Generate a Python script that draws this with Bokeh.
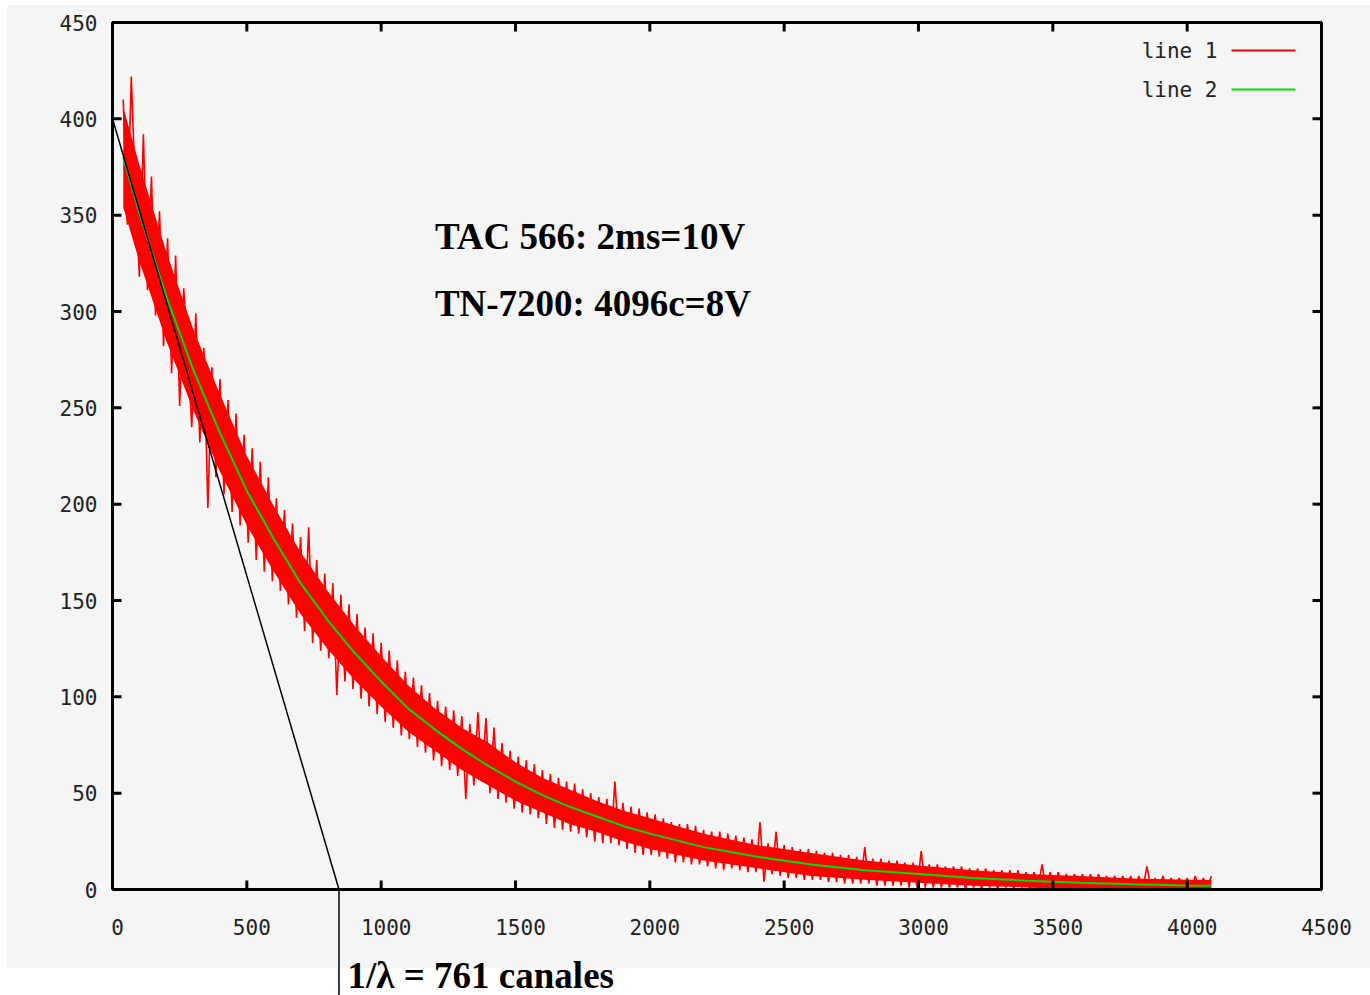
from bokeh.plotting import figure
from bokeh.models import Range1d, FixedTicker, Label
from bokeh.core.properties import value
from bokeh.embed import file_html
from bokeh.resources import INLINE

# ---------------- data ----------------
channel_start = 40
channel_step = 15
counts = [
    410, 345, 422, 362, 318, 392, 311, 370, 298, 352,
    282, 338, 268, 329, 251, 312, 279, 240, 299, 232,
    281, 198, 271, 214, 265, 205, 254, 196, 247, 189,
    236, 180, 229, 171, 222, 165, 214, 160, 203, 155,
    197, 148, 190, 141, 183, 134, 188, 128, 171, 124,
    164, 120, 159, 101, 153, 108, 148, 104, 143, 99,
    136, 95, 133, 91, 128, 87, 124, 84, 119, 80,
    113, 78, 110, 74, 106, 71, 102, 67, 98, 64,
    95, 62, 93, 59, 90, 47, 86, 54, 92, 56,
    89, 50, 84, 47, 76, 45, 72, 42, 69, 40,
    67, 39, 65, 37, 62, 34, 60, 32, 58, 31,
    56, 30, 55, 29, 52, 27, 50, 25, 48, 24,
    47, 24, 56, 23, 45, 21, 43, 19, 42, 18,
    40, 18, 39, 17, 37, 16, 35, 14, 34, 14,
    34, 13, 33, 13, 31, 12, 30, 11, 30, 10,
    29, 11, 28, 10, 27, 9, 26, 9, 35, 4,
    24, 8, 30, 7, 23, 6, 22, 6, 21, 5,
    21, 5, 20, 5, 19, 4, 19, 4, 18, 3,
    18, 3, 17, 3, 22, 3, 16, 2, 16, 2,
    15, 2, 15, 2, 14, 1, 14, 1, 20, 1,
    13, 1, 13, 1, 12, 1, 12, 1, 12, 0,
    11, 1, 11, 0, 11, 1, 10, 0, 10, 1,
    10, 0, 10, 1, 9, 0, 9, 1, 13, 0,
    9, 0, 9, 1, 8, 0, 8, 1, 8, 0,
    8, 0, 8, 1, 7, 0, 7, 0, 7, 1,
    7, 0, 7, 0, 12, 1, 6, 0, 7, 0,
    6, 0, 6, 1, 6, 0, 7, 0, 6, 1, 7,
]
channels = [channel_start + channel_step * i for i in range(len(counts))]

# solid core of the noisy spectrum (lower / upper edge of the dense red band)
fit_channels = [40, 100, 200, 300, 400, 500, 600, 700, 800, 900, 1000, 1100,
                1200, 1300, 1400, 1500, 1600, 1700, 1800, 1900, 2000, 2200,
                2400, 2600, 2800, 3000, 3200, 3400, 3600, 3800, 4000, 4090]
band_high = [406, 376, 331, 291, 257, 225, 199, 175, 155, 137, 121, 106,
             94, 84, 76, 66, 58, 52, 46, 41, 37, 29,
             23, 19, 15, 12.5, 10, 8.1, 7, 5.7, 5.1, 4.9]
band_low = [354, 326, 285, 249, 217, 189, 165, 143, 125, 109, 95, 82,
            72, 62, 54, 46, 40, 34, 30, 25, 21, 15,
            11, 7, 5, 3.5, 2, 1.1, 0, 0, 0, 0]
fit_counts = [380, 351, 308, 270, 237, 207, 182, 159, 140, 123, 108, 94,
              83, 73, 64, 56, 49, 43, 38, 33, 29, 22,
              17, 13, 10, 8, 6, 4.6, 3.5, 2.7, 2.1, 1.9]

tangent_x = [0, 843]
tangent_y = [400, 0]
marker_channel = 843

x_ticks = [0, 500, 1000, 1500, 2000, 2500, 3000, 3500, 4000, 4500]
y_ticks = [0, 50, 100, 150, 200, 250, 300, 350, 400, 450]
x_min, x_max = 0, 4500
y_min, y_max = 0, 450

series_names = ["line 1", "line 2"]
series_colors = ["#ff0000", "#00dd00"]
note_lines = ["TAC 566: 2ms=10V", "TN-7200: 4096c=8V"]
tau_note = "1/λ = 761 canales"

# ---------------- geometry ----------------
PX_X = 1209 / 4500.0      # pixels per channel
PX_Y = 867 / 450.0        # pixels per count
FRAME_L, FRAME_T = 110, 20
TICK = 9                  # tick length in pixels

p = figure(width=1370, height=995, output_backend="svg", toolbar_location=None,
           x_range=Range1d(x_min - 2 / PX_X, x_max + 49 / PX_X),
           y_range=Range1d(y_min - 106 / PX_Y, y_max + 2 / PX_Y),
           min_border_left=FRAME_L, min_border_right=0,
           min_border_top=FRAME_T, min_border_bottom=0,
           background_fill_alpha=0.0, border_fill_alpha=0.0,
           outline_line_color=None)
p.styles = {
    "background-color": "white",
    "background-image": "linear-gradient(#f5f5f5, #f5f5f5)",
    "background-size": "1363px 963px",
    "background-position": "7px 5px",
    "background-repeat": "no-repeat",
}
p.xgrid.visible = False
p.ygrid.visible = False
p.xaxis.visible = False

TICK_FONT = "DejaVu Sans Mono"
TICK_SIZE = "21px"
LABEL_COLOR = "#222222"

ya = p.yaxis[0]
ya.ticker = FixedTicker(ticks=y_ticks)
ya.axis_line_color = None
ya.major_tick_line_color = None
ya.minor_tick_line_color = None
ya.major_tick_in = 0
ya.major_tick_out = 0
ya.major_label_standoff = 13
ya.major_label_text_font = TICK_FONT
ya.major_label_text_font_size = TICK_SIZE
ya.major_label_text_color = LABEL_COLOR

# x tick labels (drawn in data space, below the axis)
p.text(x=x_ticks, y=[-37 / PX_Y] * len(x_ticks), text=[str(t) for t in x_ticks],
       text_font=value(TICK_FONT), text_font_size=TICK_SIZE, text_color=LABEL_COLOR,
       text_align="center", text_baseline="middle", x_offset=5)

# ---------------- data marks ----------------
p.varea(x=fit_channels, y1=band_low, y2=band_high, fill_color="#ff0000")
p.line(channels, counts, line_color="#ff0000", line_width=1.6)
p.line(fit_channels, fit_counts, line_color="#00dd00", line_width=2)
p.line(tangent_x, tangent_y, line_color="black", line_width=1.5)
p.line([marker_channel, marker_channel], [y_min, y_min - 106 / PX_Y],
       line_color="black", line_width=1.5)

# ---------------- frame and inward ticks ----------------
p.line([x_min, x_max, x_max, x_min, x_min], [y_min, y_min, y_max, y_max, y_min],
       line_color="black", line_width=3)
n_x, n_y = len(x_ticks), len(y_ticks)
p.segment(x0=x_ticks, y0=[y_min] * n_x, x1=x_ticks, y1=[y_min + TICK / PX_Y] * n_x,
          line_color="black", line_width=3)
p.segment(x0=x_ticks, y0=[y_max] * n_x, x1=x_ticks, y1=[y_max - TICK / PX_Y] * n_x,
          line_color="black", line_width=3)
p.segment(x0=[x_min] * n_y, y0=y_ticks, x1=[x_min + TICK / PX_X] * n_y, y1=y_ticks,
          line_color="black", line_width=3)
p.segment(x0=[x_max] * n_y, y0=y_ticks, x1=[x_max - TICK / PX_X] * n_y, y1=y_ticks,
          line_color="black", line_width=3)

# ---------------- legend (gnuplot style: text then sample) ----------------
leg_y = [y_max - 28 / PX_Y, y_max - 67 / PX_Y]
leg_text_x = x_max - 104 / PX_X
p.segment(x0=[x_max - 90 / PX_X] * 2, y0=leg_y, x1=[x_max - 26 / PX_X] * 2, y1=leg_y,
          line_color=series_colors, line_width=2)
for name, yy in zip(series_names, leg_y):
    p.add_layout(Label(x=leg_text_x, y=yy, text=name, text_align="right",
                       text_baseline="middle", text_font=TICK_FONT,
                       text_font_size=TICK_SIZE, text_color=LABEL_COLOR))

# ---------------- notes ----------------
for txt, yy in zip(note_lines, [339, 304]):
    p.add_layout(Label(x=1200, y=yy, text=txt, text_font="Liberation Serif",
                       text_font_style="bold", text_font_size="37px",
                       text_color="black", text_baseline="alphabetic"))
p.add_layout(Label(x=875, y=-44.6, text=tau_note, text_font="Liberation Serif",
                   text_font_style="bold", text_font_size="37px",
                   text_color="black", text_baseline="alphabetic"))

open("out.html", "w").write(file_html(p, INLINE))
